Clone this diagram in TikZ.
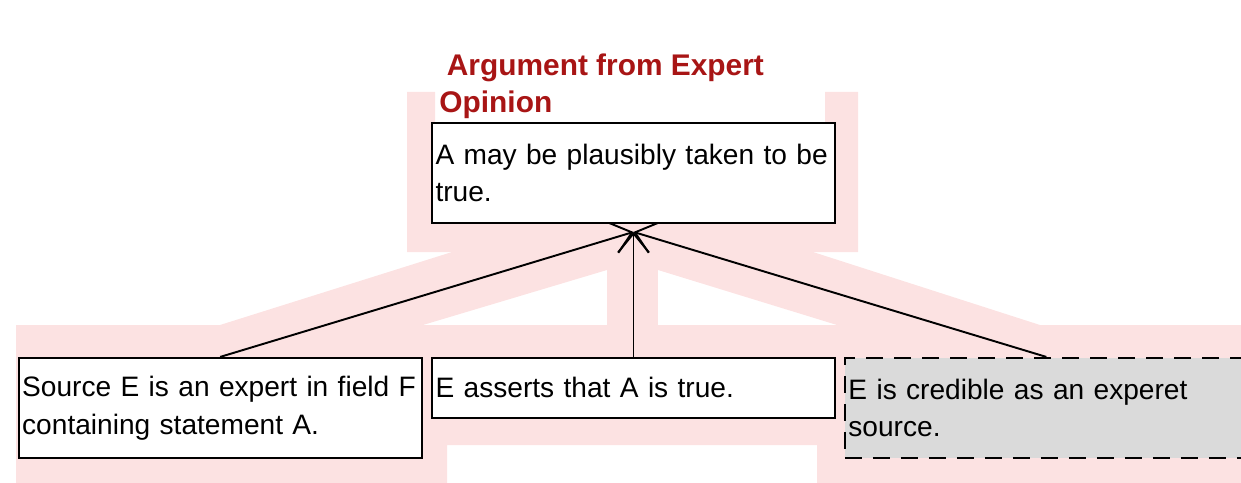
\documentclass[tikz,border=0pt]{standalone}
\usepackage{fontspec}
\setmainfont{Liberation Sans}
\usetikzlibrary{arrows.meta,positioning,calc}
\definecolor{blush}{RGB}{252,226,226}
\definecolor{argred}{HTML}{A81515}
\definecolor{dimgrey}{HTML}{DADADA}

\begin{document}
\begin{tikzpicture}[x=0.02cm,y=-0.02cm,
  textbox/.style={draw=black,line width=1.1pt,fill=white,minimum width=8.06cm,text width=7.92cm,inner xsep=0.07cm,inner ysep=0pt,align=left,font=\fontsize{16}{21.5}\selectfont},
  hidden/.style={textbox,fill=dimgrey,dash pattern=on 0.34cm off 0.22cm},
  link/.style={-{Straight Barb[length=0.38cm,width=0.62cm]},line width=1.1pt}]
  \useasboundingbox (0,0) rectangle (1241,483);
  % faint backdrop
  \fill[blush] (407,92) rectangle (435,252) (825,92) rectangle (858,252) (407,200) rectangle (858,252);
  \fill[blush] (452,252) -- (607,252) -- (607,270) -- (423,325) -- (220,325) -- cycle;
  \fill[blush] (607,252) rectangle (658,325);
  \fill[blush] (658,252) -- (813,252) -- (1040,325) -- (837,325) -- (658,270) -- cycle;
  \fill[blush] (16,325) -- (1241,325) -- (1241,483) -- (817,483) -- (817,445) -- (447,445) -- (447,483) -- (16,483) -- cycle;
  % claim and premises
  \node[textbox,minimum height=2cm] (claim) at (633.5,173) {A may be plausibly taken to be\\true.};
  \node[textbox,minimum height=1.2cm,below=2.66cm of claim] (ground) {E asserts that A is true.};
  \node[textbox,minimum height=2cm,anchor=north east] (expert) at ([xshift=-0.17cm]ground.north west) {Source E is an expert in field F\\containing statement A.};
  \node[hidden,minimum height=2cm,anchor=north west] (cred) at ([xshift=0.16cm]ground.north east) {E is credible as an experet\\source.};
  \node[anchor=south west,inner sep=0pt,align=left,text=argred,font=\bfseries\fontsize{17}{21.5}\selectfont] (scheme) at ([xshift=0.16cm,yshift=0.05cm]claim.north west) {\hspace*{0.15cm}Argument from Expert\\Opinion};
  \coordinate (tip) at ([yshift=-0.16cm]claim.south);
  \draw[link] (expert.north) -- (tip);
  \draw[link] (ground.north) -- (tip);
  \draw[link] (cred.north) -- (tip);
\end{tikzpicture}
\end{document}
